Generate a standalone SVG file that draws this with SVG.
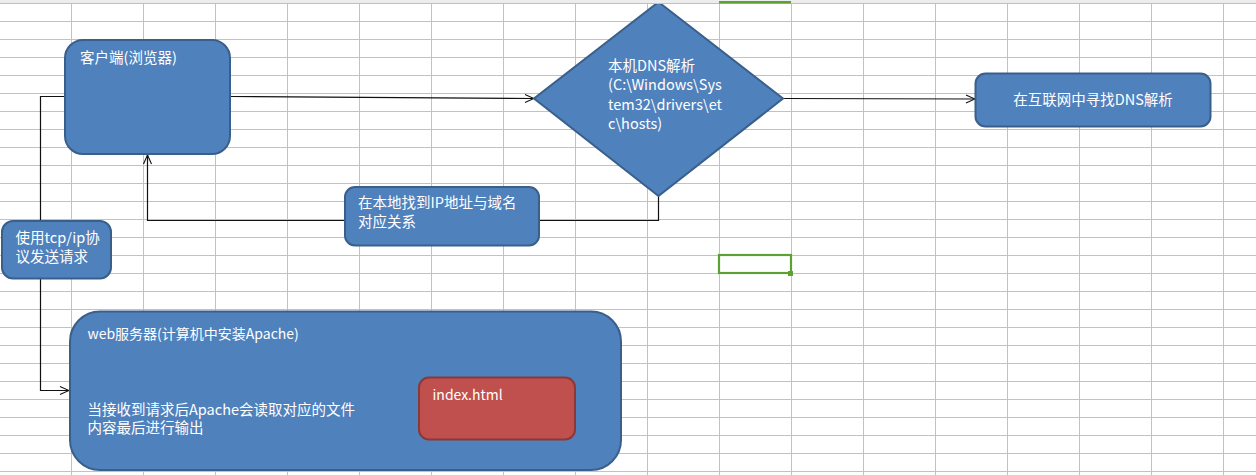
<svg xmlns="http://www.w3.org/2000/svg" width="1256" height="475" viewBox="0 0 1256 475">
  <defs>
    <style>
      .box { fill: #4f81bd; stroke: #3a5f8b; stroke-width: 2; }
      .red { fill: #c0504d; stroke: #8c3836; stroke-width: 2; }
      .lbl { font-family: "Noto Sans CJK SC", "Noto Sans", sans-serif; font-size: 14.5px; fill: #ffffff; }
      .sm { font-size: 14px; }
      .wire { fill: none; stroke: #111111; stroke-width: 1.2; }
    </style>
    <pattern id="cells" patternUnits="userSpaceOnUse" x="71" y="3" width="72" height="18">
      <rect x="0" y="0" width="1" height="18" fill="#c2c2c2"/>
      <rect x="0" y="0" width="72" height="1" fill="#c2c2c2"/>
    </pattern>
    <marker id="open" viewBox="0 0 10 10" refX="10" refY="5" markerWidth="10" markerHeight="10" markerUnits="userSpaceOnUse" orient="auto">
      <path d="M1,1 L10,5 L1,9" fill="none" stroke="#111111" stroke-width="1.1"/>
    </marker>
  </defs>

  <!-- sheet background and cell grid -->
  <rect x="0" y="0" width="1256" height="475" fill="#ffffff"/>
  <rect x="0" y="0" width="1256" height="475" fill="url(#cells)"/>

  <!-- active cell -->
  <g id="active-cell">
    <rect x="719" y="255" width="72" height="18" fill="none" stroke="#5ea132" stroke-width="2.2"/>
    <rect x="788" y="271" width="5" height="5" fill="#5ea132"/>
  </g>

  <!-- connectors -->
  <g id="connectors">
    <path class="wire" d="M231,96.5 L534,98.5" marker-end="url(#open)"/>
    <path class="wire" d="M783,98.5 L975,99" marker-end="url(#open)"/>
    <path class="wire" d="M658.5,196 V220.5 H147.5 V155" marker-end="url(#open)"/>
    <path class="wire" d="M64,96.5 H40.5 V390.5 H69" marker-end="url(#open)"/>
  </g>

  <g id="client">
    <rect class="box" x="65" y="40" width="165" height="114" rx="18"/>
    <text class="lbl" x="80" y="63">客户端(浏览器)</text>
  </g>

  <g id="hosts-lookup">
    <polygon class="box" points="658.5,2 783,98.5 658.5,196 534,98.5"/>
    <text class="lbl" x="608" y="70.5">本机DNS解析</text>
    <text class="lbl" x="608" y="90">(C:\Windows\Sys</text>
    <text class="lbl" x="608" y="109.5">tem32\drivers\et</text>
    <text class="lbl" x="608" y="128.5">c\hosts)</text>
  </g>

  <g id="internet-dns">
    <rect class="box" x="975.5" y="73.5" width="235" height="53" rx="10"/>
    <text class="lbl" x="1093" y="104.8" text-anchor="middle">在互联网中寻找DNS解析</text>
  </g>

  <g id="local-found">
    <rect class="box" x="345" y="187" width="194" height="58.5" rx="10"/>
    <text class="lbl" x="358" y="208">在本地找到IP地址与域名</text>
    <text class="lbl" x="358" y="226.5">对应关系</text>
  </g>

  <g id="tcp-request">
    <rect class="box" x="2" y="221" width="109" height="57.5" rx="11"/>
    <text class="lbl" x="15.5" y="243">使用tcp/ip协</text>
    <text class="lbl" x="15.5" y="261.5">议发送请求</text>
  </g>

  <g id="web-server">
    <rect class="box" x="70" y="311.5" width="551" height="158.5" rx="30"/>
    <text class="lbl sm" x="87.5" y="338.5">web服务器(计算机中安装Apache)</text>
    <text class="lbl" x="87.5" y="414.5">当接收到请求后Apache会读取对应的文件</text>
    <text class="lbl" x="87.5" y="433">内容最后进行输出</text>
  </g>

  <g id="index-file">
    <rect class="red" x="419" y="377.5" width="156" height="62" rx="10"/>
    <text class="lbl sm" x="432.5" y="399.5">index.html</text>
  </g>

  <!-- column header strip -->
  <g id="header">
    <rect x="0" y="0" width="1256" height="3.5" fill="#ececec"/>
    <rect x="0" y="3" width="1256" height="1" fill="#c0c0c0"/>
    <rect x="719" y="1" width="72" height="2.5" fill="#5ea132"/>
  </g>
</svg>
